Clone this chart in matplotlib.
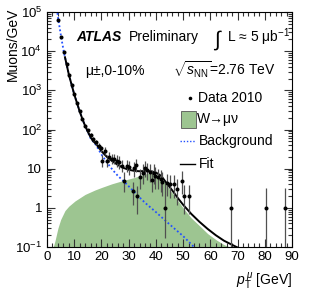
import numpy as np
import matplotlib
matplotlib.use('Agg')
import matplotlib.pyplot as plt
from matplotlib.lines import Line2D
from matplotlib.patches import Rectangle
from matplotlib.ticker import MultipleLocator, LogLocator, NullFormatter

plt.rcParams['font.family'] = ['Liberation Sans', 'DejaVu Sans']
plt.rcParams['mathtext.fontset'] = 'custom'
plt.rcParams['mathtext.rm'] = 'Liberation Sans'
plt.rcParams['mathtext.it'] = 'Liberation Sans:italic'
plt.rcParams['mathtext.bf'] = 'Liberation Sans:bold'

# data points: muon pT [GeV], muons/GeV, error bar low / high ends
mu_pt = [4.2, 5.2, 6.2, 7.2, 8.1, 9.1, 10.0, 11.0, 12.0, 13.0, 14.0, 15.0, 16.0, 17.0,
         18.0, 19.0, 20.0, 20.3, 21.3, 22.2, 22.9, 23.8, 24.6, 25.6, 26.6, 27.4, 28.2,
         29.3, 30.1, 31.5, 32.0, 32.6, 33.2, 34.2, 35.2, 36.1, 36.8, 37.8, 38.5, 39.2,
         39.7, 40.7, 41.8, 42.4, 43.4, 44.2, 45.2, 46.7, 47.6, 49.5, 50.3, 52.3,
         67.5, 80.5, 87.4]
mu_val = [6.2e4, 2.3e4, 9.4e3, 4.6e3, 2.4e3, 1.35e3, 790, 480, 290, 190, 125, 95, 72, 58,
          48, 38, 33, 16, 28, 16, 20, 18, 18, 16, 15, 12, 4.8,
          12, 11.2, 2.7, 10.2, 12.4, 2.0, 6.2, 7.9, 10.2, 9.2, 8.1, 5.1, 7.9,
          6.5, 6.2, 5.3, 4.5, 1.0, 4.2, 4.0, 4.0, 3.0, 4.9, 2.0, 2.0,
          1.0, 1.0, 1.0]
mu_lo = [5.9e4, 2.2e4, 9.0e3, 4.4e3, 2.3e3, 1.29e3, 750, 455, 272, 176, 114, 85, 63, 50,
         41, 32, 27, 11, 22, 11, 15, 13, 13, 11, 10, 8, 2.5,
         8, 7, 1.2, 6, 8, 0.7, 3, 4, 6, 5, 4.5, 2.5, 4,
         3, 3, 2.5, 2, 0.17, 2, 1.8, 1.8, 1.2, 2.3, 0.7, 0.7,
         0.09, 0.09, 0.09]
mu_hi = [6.5e4, 2.4e4, 9.8e3, 4.8e3, 2.5e3, 1.41e3, 830, 505, 308, 204, 136, 105, 81, 66,
         55, 44, 39, 22, 35, 22, 26, 24, 24, 22, 21, 17, 8,
         17, 16, 4.5, 15, 18, 3.7, 10, 13, 16, 14, 13, 9, 13,
         11, 10, 9, 8, 4.2, 7.5, 7, 7, 5.5, 8.5, 3.8, 3.8,
         3.3, 3.3, 3.3]

# background curve
bkg_pt = [3.6, 4.2, 5.2, 6.2, 7.2, 8.1, 9.1, 10, 11, 12, 13, 14, 15, 16, 18, 20, 22, 24,
          26, 28.4, 31.5, 33.2, 36, 40, 45, 50, 54, 56]
bkg_val = [1.2e5, 6.2e4, 2.3e4, 9.4e3, 4.6e3, 2.4e3, 1.35e3, 790, 480, 290, 185, 122, 85,
           60, 40, 23, 14.5, 9.5, 6.6, 4.6, 2.8, 2.1, 1.35, 0.78, 0.38, 0.19, 0.1, 0.075]

# W -> mu nu template
w_pt = [2.3, 3, 4, 5, 6.6, 8, 10.3, 14, 17.6, 20, 23.8, 28, 32.3, 35, 37.8, 40, 42, 44,
        46, 48, 50.1, 53, 56.2, 59, 62.3, 65, 67.2, 68]
w_val = [0.1, 0.15, 0.3, 0.5, 0.85, 1.1, 1.5, 2.2, 2.85, 3.3, 4.1, 5.0, 6.0, 7.0, 7.8, 7.3,
         5.8, 3.7, 2.4, 1.55, 0.97, 0.55, 0.34, 0.22, 0.15, 0.115, 0.1, 0.09]

# fit = background + W
fit_pt = [6.6, 7.2, 8.1, 9.1, 10, 11, 12, 13, 14, 15, 16, 17, 18, 20, 22, 24, 26, 28, 30,
          32, 34, 36, 38, 40, 42, 44, 46, 48, 50, 53, 56, 59, 62, 65, 68.4, 71]
fit_val = [7000, 4.6e3, 2.4e3, 1.35e3, 790, 480, 290, 186, 124, 88, 64, 50, 43, 28, 20,
           15.5, 12.5, 10.5, 9.4, 8.8, 8.6, 8.7, 8.6, 8.0, 6.5, 4.2, 2.8, 1.8, 1.2, 0.7,
           0.44, 0.29, 0.2, 0.145, 0.11, 0.09]

ytick_vals = [1e-1, 1, 10, 1e2, 1e3, 1e4, 1e5]
ytick_labels = ['$10^{-1}$', '1', '10', '$10^{2}$', '$10^{3}$', '$10^{4}$', '$10^{5}$']

W, H = 310, 294
fig = plt.figure(figsize=(W / 100, H / 100), dpi=100)
ax = fig.add_axes([47 / W, 1 - 247 / H, 245 / W, 235 / H])

green = '#9dc591'
ax.fill_between(w_pt, w_val, 1e-3, color=green, lw=0, zorder=1)
ax.plot(bkg_pt, bkg_val, color='#2250ff', ls=(0, (1, 1.3)), lw=1.3, zorder=3)
ax.plot(fit_pt, fit_val, color='black', lw=1.4, zorder=4)

yv = np.array(mu_val)
yerr = [yv - np.array(mu_lo), np.array(mu_hi) - yv]
ax.errorbar(mu_pt, mu_val, yerr=yerr, fmt='o', ms=2.9, mew=0, color='black',
            ecolor='#505050', elinewidth=0.9, capsize=0, zorder=5)

ax.set_yscale('log')
ax.set_xlim(0, 90)
ax.set_ylim(0.1, 1e5)
ax.xaxis.set_major_locator(MultipleLocator(10))
ax.xaxis.set_minor_locator(MultipleLocator(2))
ax.set_yticks(ytick_vals)
ax.set_yticklabels(ytick_labels)
ax.yaxis.set_minor_locator(LogLocator(base=10, subs=np.arange(2, 10)))
ax.yaxis.set_minor_formatter(NullFormatter())
ax.tick_params(which='both', direction='in', top=True, right=True, labelsize=9.5,
               width=0.8, color='#333333')
ax.tick_params(which='major', length=6)
ax.tick_params(which='minor', length=3)
ax.tick_params(axis='x', pad=3)
for s in ax.spines.values():
    s.set_linewidth(0.8)

ax.set_ylabel('Muons/GeV', fontsize=10, loc='top')
ax.yaxis.set_label_coords(-0.11, 1.02)
ax.set_xlabel(r'$p_{\rm T}^{\,\mu}$ [GeV]', fontsize=10, loc='right')
ax.xaxis.set_label_coords(1.0, -0.1)


def fx(px):
    return px / W


def fy(py):
    return 1 - py / H


fig.text(fx(76), fy(37), 'ATLAS', fontsize=10, fontweight='bold', fontstyle='italic',
         va='center', ha='left')
fig.text(fx(129), fy(37), 'Preliminary', fontsize=10, va='center', ha='left')
fig.text(fx(213), fy(40), r'$\int$', fontsize=15, va='center', ha='left')
fig.text(fx(227), fy(37), 'L ≈ 5 μb$^{-1}$', fontsize=10, va='center', ha='left')
fig.text(fx(85), fy(71), 'μ±,0-10%', fontsize=10, va='center', ha='left')
fig.text(fx(173), fy(70), r'$\sqrt{s_{\mathrm{NN}}}$=2.76 TeV', fontsize=10,
         va='center', ha='left')

# legend
fig.add_artist(Line2D([fx(190)], [fy(98)], marker='o', ms=2.6, mew=0, color='black',
                      ls='none'))
fig.text(fx(198), fy(98), 'Data 2010', fontsize=10, va='center', ha='left')
fig.add_artist(Rectangle((fx(181), fy(128)), fx(15), 17 / H, facecolor=green,
                         edgecolor='#555555', lw=0.6, transform=fig.transFigure))
fig.text(fx(197), fy(119), 'W→μν', fontsize=10, va='center', ha='left')
fig.add_artist(Line2D([fx(180), fx(195)], [fy(141), fy(141)], color='#2250ff',
                      ls=(0, (1, 1.3)), lw=1.0))
fig.text(fx(199), fy(141), 'Background', fontsize=10, va='center', ha='left')
fig.add_artist(Line2D([fx(180), fx(195)], [fy(164), fy(164)], color='black', lw=1.0))
fig.text(fx(199), fy(164), 'Fit', fontsize=10, va='center', ha='left')

fig.savefig('out.png', dpi=100)
